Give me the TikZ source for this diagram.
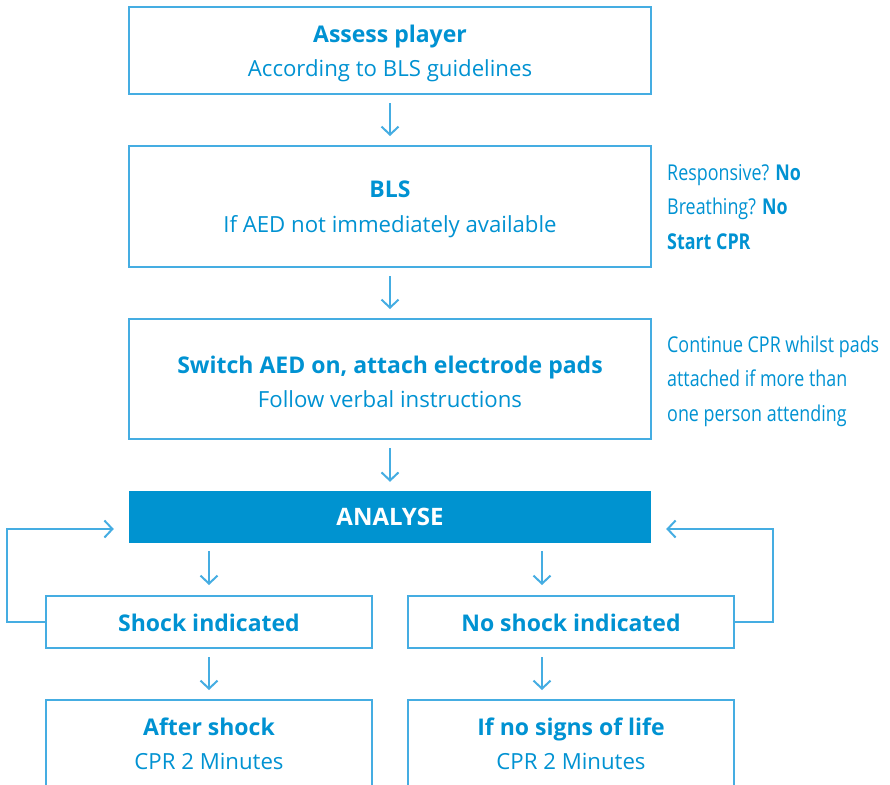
\documentclass[tikz,border=0pt]{standalone}
\usepackage{fontspec}
\setmainfont{Open Sans}
\newfontfamily\condfont[FakeStretch=0.82]{Open Sans}
\usetikzlibrary{arrows.meta}
\definecolor{txtblue}{HTML}{0092D2}
\definecolor{lineblue}{HTML}{45ADE2}
\definecolor{fillblue}{HTML}{0093D0}
\newcommand{\hd}[1]{{\fontsize{23}{34.5}\selectfont\bfseries #1}}
\tikzset{
  box/.style={draw=lineblue, line width=2pt, fill=white, inner sep=0pt},
  boxtxt/.style={text=txtblue, align=center, inner sep=0pt,
    font=\fontsize{22.2}{34.5}\selectfont},
  darkbox/.style={draw=none, fill=fillblue, text=white, align=center, inner sep=0pt,
    font=\fontsize{24}{34.5}\selectfont\bfseries},
  arr/.style={draw=lineblue, line width=2pt, -{Straight Barb[length=8pt,width=17pt,line width=2pt]}},
  sidetext/.style={text=txtblue, align=left, inner sep=0pt, anchor=west,
    font=\condfont\fontsize{21.8}{34.5}\selectfont}
}
\begin{document}
\begin{tikzpicture}[x=1pt,y=-1pt]
\useasboundingbox (0,0) rectangle (890,784);
\clip (0,0) rectangle (890,784);
\node[box, minimum width=522pt, minimum height=87pt] (assess) at (390,50.5) {};
\node[boxtxt] (assesstxt) at ([yshift=-3pt]assess.center)
  {\hd{Assess player}\\According to BLS guidelines};
\node[box, minimum width=522pt, minimum height=121pt] (bls) at (390,206.5) {};
\node[boxtxt] (blstxt) at ([yshift=-3pt]bls.center)
  {\hd{BLS}\\If AED not immediately available};
\node[box, minimum width=522pt, minimum height=120pt] (switch) at (390,379) {};
\node[boxtxt] (switchtxt) at ([yshift=-3pt]switch.center)
  {\hd{Switch AED on, attach electrode pads}\\Follow verbal instructions};
\node[darkbox, minimum width=522pt, minimum height=52pt] (analyse) at (390,517) {ANALYSE};
\node[box, minimum width=326pt, minimum height=52pt] (shock) at (209,622) {};
\node[boxtxt] (shocktxt) at ([yshift=-1pt]shock.center) {\hd{Shock indicated}};
\node[box, minimum width=326pt, minimum height=52pt] (noshock) at (571,622) {};
\node[boxtxt] (noshocktxt) at ([yshift=-1pt]noshock.center) {\hd{No shock indicated}};
\node[box, minimum width=326pt, minimum height=100pt] (after) at (209,750) {};
\node[boxtxt] (aftertxt) at ([yshift=-45pt]after.north)
  {\hd{After shock}\\CPR 2 Minutes};
\node[box, minimum width=326pt, minimum height=100pt] (nolife) at (571,750) {};
\node[boxtxt] (nolifetxt) at ([yshift=-45pt]nolife.north)
  {\hd{If no signs of life}\\CPR 2 Minutes};

\node[sidetext] (side1) at (667,207)
  {Responsive? \textbf{No}\\Breathing? \textbf{No}\\\textbf{Start CPR}};
\node[sidetext] (side2) at (667,381)
  {Continue CPR whilst pads\\attached if more than\\one person attending};

\draw[arr, shorten <=8pt, shorten >=9pt] (assess.south) -- (bls.north);
\draw[arr, shorten <=8pt, shorten >=9pt] (bls.south) -- (switch.north);
\draw[arr, shorten <=8pt, shorten >=9pt] (switch.south) -- (analyse.north);
\draw[arr, shorten <=8pt, shorten >=10pt] (shock.north |- analyse.south) -- (shock.north);
\draw[arr, shorten <=8pt, shorten >=10pt] ([xshift=-29pt]noshock.north |- analyse.south) -- ([xshift=-29pt]noshock.north);
\draw[arr, shorten <=8pt, shorten >=9pt] (shock.south) -- (after.north);
\draw[arr, shorten <=8pt, shorten >=9pt] ([xshift=-29pt]noshock.south) -- ([xshift=-29pt]nolife.north);
\draw[arr, shorten >=15pt] (shock.west) -- ++(-38,0) |- ([yshift=-12pt]analyse.west);
\draw[arr, shorten >=15pt] (noshock.east) -- ++(38,0) |- ([yshift=-12pt]analyse.east);
\end{tikzpicture}
\end{document}
